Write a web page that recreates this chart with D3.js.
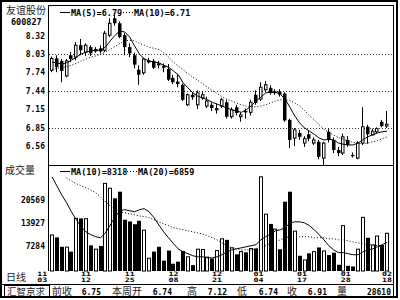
<!DOCTYPE html>
<html>
<head>
<meta charset="utf-8">
<script src="https://cdn.jsdelivr.net/npm/d3@7"></script>
<style>
  body { margin: 0; background: #fff; }
  svg text { font-family: "DejaVu Sans Mono", monospace; font-weight: bold; fill: #000; }
  svg text.cjk { font-family: "Noto Sans CJK SC", sans-serif; font-weight: normal; fill: #222; }
</style>
</head>
<body>
<div id="chart"></div>
<script>
// daily candles
var priceOpen  = [7.77,7.96,7.92,7.68,8.01,7.98,8.17,8.06,8.14,8.08,8.12,8.09,8.33,8.60,8.52,8.33,8.14,8.01,7.78,7.73,
                  7.91,7.92,7.88,7.84,7.79,7.65,7.59,7.54,7.22,7.38,7.22,7.33,7.20,7.22,7.14,7.20,7.26,7.03,7.18,7.03,
                  7.12,7.10,7.38,7.31,7.46,7.49,7.42,7.43,7.40,6.98,6.69,6.77,6.61,6.75,6.61,6.63,6.37,6.79,6.66,6.50,
                  6.45,6.66,6.42,6.37,6.61,6.87,6.74,6.79,6.95,6.88];
var priceHigh  = [7.99,8.01,7.95,7.95,8.06,8.22,8.27,8.20,8.17,8.14,8.17,8.40,8.60,8.66,8.55,8.36,8.20,8.05,7.85,7.97,
                  7.97,7.95,7.92,7.88,7.87,7.70,7.70,7.56,7.40,7.42,7.45,7.43,7.35,7.26,7.24,7.33,7.30,7.18,7.22,7.10,
                  7.16,7.30,7.45,7.58,7.60,7.53,7.47,7.47,7.42,7.00,6.85,6.82,6.72,6.82,6.70,6.66,6.63,6.84,6.70,6.55,
                  6.76,6.72,6.46,6.64,7.18,6.90,6.84,6.86,6.98,7.12];
var priceLow   = [7.74,7.74,7.58,7.66,7.90,7.93,8.01,8.00,8.00,8.05,8.04,8.06,8.30,8.48,8.28,8.01,7.98,7.80,7.54,7.70,
                  7.88,7.79,7.80,7.74,7.60,7.55,7.50,7.28,7.20,7.30,7.15,7.30,7.17,7.12,7.08,7.17,7.00,7.00,7.05,6.95,
                  7.00,7.05,7.22,7.28,7.42,7.38,7.38,7.35,6.95,6.53,6.56,6.66,6.55,6.64,6.58,6.35,6.26,6.62,6.45,6.40,
                  6.42,6.55,6.38,6.35,6.58,6.60,6.74,6.76,6.86,6.85];
var priceClose = [7.96,7.82,7.76,7.92,7.95,8.17,8.09,8.17,8.04,8.10,8.07,8.36,8.52,8.52,8.30,8.14,8.04,7.86,7.70,7.95,
                  7.92,7.81,7.85,7.81,7.62,7.58,7.55,7.30,7.38,7.34,7.41,7.38,7.28,7.17,7.16,7.30,7.03,7.14,7.09,7.06,
                  7.10,7.26,7.25,7.50,7.54,7.41,7.43,7.38,6.97,6.66,6.82,6.71,6.68,6.68,6.66,6.39,6.61,6.66,6.50,6.45,
                  6.71,6.58,6.40,6.61,6.87,6.75,6.80,6.84,6.88,6.91];
var volume     = [10400,9700,7000,6900,5600,15200,15200,15100,7400,6300,7200,25300,23900,21000,22900,14800,14300,13500,14500,11800,
                  3700,5600,7000,3000,5900,2100,2700,5800,4100,1700,6300,6200,4000,3600,5900,9300,9000,6700,4800,5600,
                  5400,6500,6500,27200,16400,13600,12100,6300,20000,22900,11500,4400,3200,5100,5600,6800,5800,4600,5300,1800,
                  13100,1500,1300,6300,15500,9600,7500,10100,7500,10900];

// moving average lines as drawn
var priceMa5  = [7.90,7.89,7.87,7.89,7.93,7.98,8.03,8.06,8.08,8.09,8.09,8.14,8.24,8.33,8.40,8.38,8.30,8.16,8.03,7.95,
                 7.92,7.90,7.89,7.85,7.82,7.76,7.70,7.57,7.49,7.41,7.36,7.33,7.30,7.26,7.23,7.20,7.17,7.14,7.12,7.10,
                 7.14,7.20,7.28,7.34,7.41,7.42,7.42,7.39,7.31,7.18,7.04,6.93,6.85,6.80,6.75,6.69,6.66,6.67,6.66,6.61,
                 6.59,6.58,6.58,6.61,6.66,6.71,6.74,6.77,6.79,6.80];
var priceMa10 = [7.78,7.80,7.81,7.83,7.85,7.88,7.92,7.95,7.98,8.00,8.03,8.06,8.10,8.15,8.20,8.24,8.25,8.24,8.20,8.17,
                 8.14,8.12,8.10,8.05,7.98,7.90,7.84,7.78,7.72,7.66,7.61,7.56,7.50,7.45,7.40,7.35,7.31,7.28,7.25,7.22,
                 7.20,7.19,7.19,7.20,7.22,7.25,7.28,7.30,7.30,7.29,7.25,7.20,7.13,7.05,6.98,6.90,6.83,6.78,6.74,6.70,
                 6.67,6.64,6.62,6.61,6.60,6.61,6.63,6.65,6.68,6.71];
var volMa10 = [27200,24600,22000,19700,17100,14800,12800,11300,10500,9900,9600,11000,13300,15700,17400,17700,17400,17100,17700,18000,
               17100,15400,13300,11300,9600,7900,6400,5500,5000,4400,4100,4100,3800,3800,4100,4700,5500,6100,6400,6700,
               7000,7300,7600,9000,9900,10700,11600,11900,12500,13900,14200,14200,13900,13100,11900,10500,9000,7300,6100,5300,
               5300,5000,4700,4700,5500,6100,6400,7000,7600,8300];
var volMa20 = [null,null,null,26900,26000,25200,24600,24000,23400,22600,21400,20000,18800,17700,17100,16800,16500,16200,15900,15700,
               15400,14800,14200,13600,13100,12500,12200,11900,11600,11300,11000,10700,10200,9600,9000,8100,7300,6700,6400,6100,
               6100,6100,6400,6700,7300,7900,8400,9000,9600,9900,9900,9900,9900,9900,9600,9600,9600,9300,9300,9000,
               9000,8700,8400,8100,7900,7600,7600,7300,7000,7000];

// axis labels
var priceTicks = [8.32, 8.03, 7.74, 7.44, 7.15, 6.85, 6.56];
var priceGrid  = [8.03, 7.44, 6.85];
var volTicks   = [20569, 13927, 7284];
var dateMonth  = ["11","11","11","12","12","01","01","01","02"];
var dateDay    = ["03","12","25","08","21","04","17","28","18"];
var dateIndex  = [-2, 7, 16, 25, 34, 42.5, 51.5, 60.5, 69];

var svg = d3.select("#chart").append("svg")
    .attr("width", 400)
    .attr("height", 300);

svg.append("rect").attr("width", 400).attr("height", 300).attr("fill", "#fff");

// scales
var x = d3.scaleLinear().domain([0, priceClose.length - 1]).range([52, 387.1]);
var y = d3.scaleLinear().domain([6.85, 8.03]).range([128, 54]);
var yv = d3.scaleLinear().domain([0, 30900]).range([271, 164]);

function px(i) { return Math.round(x(i)); }

// frame
svg.append("rect").attr("x", 1).attr("y", 1).attr("width", 396).attr("height", 296)
    .attr("fill", "none").attr("stroke", "#000").attr("stroke-width", 2);
svg.append("line").attr("x1", 48).attr("x2", 393).attr("y1", 5.5).attr("y2", 5.5).attr("stroke", "#000");
svg.append("line").attr("x1", 393.5).attr("x2", 393.5).attr("y1", 5).attr("y2", 297).attr("stroke", "#000");
svg.append("line").attr("x1", 48.5).attr("x2", 48.5).attr("y1", 5).attr("y2", 271).attr("stroke", "#000");
svg.append("line").attr("x1", 48).attr("x2", 393).attr("y1", 165.5).attr("y2", 165.5).attr("stroke", "#000");
svg.append("line").attr("x1", 1).attr("x2", 393).attr("y1", 284.5).attr("y2", 284.5).attr("stroke", "#000");

// dotted grid
svg.selectAll(".grid").data(priceGrid).enter().append("line")
    .attr("class", "grid")
    .attr("x1", 49).attr("x2", 393)
    .attr("y1", function(d) { return Math.round(y(d)) + 0.5; })
    .attr("y2", function(d) { return Math.round(y(d)) + 0.5; })
    .attr("stroke", "#333").attr("stroke-dasharray", "1,2");

// price labels
svg.selectAll(".ptick").data(priceTicks).enter().append("text")
    .attr("class", "ptick")
    .attr("x", 45).attr("y", function(d) { return y(d) + 3; })
    .attr("text-anchor", "end").style("font-size", "8px")
    .text(function(d) { return d.toFixed(2); });

// volume labels
svg.selectAll(".vtick").data(volTicks).enter().append("text")
    .attr("class", "vtick")
    .attr("x", 45).attr("y", function(d) { return yv(d) + 3; })
    .attr("text-anchor", "end").style("font-size", "8px")
    .text(function(d) { return d; });

// candles
var idx = d3.range(priceClose.length);
var up = function(i) { return priceClose[i] >= priceOpen[i]; };

svg.selectAll(".wick").data(idx).enter().append("line")
    .attr("class", "wick")
    .attr("x1", function(i) { return px(i) - 0.5; })
    .attr("x2", function(i) { return px(i) - 0.5; })
    .attr("y1", function(i) { return y(priceHigh[i]); })
    .attr("y2", function(i) { return y(priceLow[i]); })
    .attr("stroke", "#000");

svg.selectAll(".body").data(idx).enter().append("rect")
    .attr("class", "body")
    .attr("x", function(i) { return up(i) ? px(i) - 1.5 : px(i) - 2; })
    .attr("width", function(i) { return up(i) ? 2.5 : 3.5; })
    .attr("y", function(i) { return y(Math.max(priceOpen[i], priceClose[i])); })
    .attr("height", function(i) { return Math.max(1, Math.abs(y(priceOpen[i]) - y(priceClose[i]))); })
    .attr("fill", function(i) { return up(i) ? "#fff" : "#000"; })
    .attr("stroke", function(i) { return up(i) ? "#000" : "none"; });

// volume bars
svg.selectAll(".vbar").data(idx).enter().append("rect")
    .attr("class", "vbar")
    .attr("x", function(i) { return up(i) ? px(i) - 1.5 : px(i) - 2; })
    .attr("width", function(i) { return up(i) ? 3 : 4; })
    .attr("y", function(i) { return yv(volume[i]); })
    .attr("height", function(i) { return yv(0) - yv(volume[i]); })
    .attr("fill", function(i) { return up(i) ? "#fff" : "#000"; })
    .attr("stroke", function(i) { return up(i) ? "#000" : "none"; });

// moving averages
function maLine(scale, values) {
  return d3.line()
    .defined(function(i) { return values[i] != null; })
    .x(function(i) { return x(i); })
    .y(function(i) { return scale(values[i]); })(idx);
}

svg.append("path").attr("d", maLine(y, priceMa5)).attr("fill", "none").attr("stroke", "#000");
svg.append("path").attr("d", maLine(y, priceMa10)).attr("fill", "none").attr("stroke", "#000").attr("stroke-dasharray", "1,2");
svg.append("path").attr("d", maLine(yv, volMa10)).attr("fill", "none").attr("stroke", "#000");
svg.append("path").attr("d", maLine(yv, volMa20)).attr("fill", "none").attr("stroke", "#000").attr("stroke-dasharray", "1,2");

// legends
function legend(ly, items) {
  items.forEach(function(it) {
    svg.append("line").attr("x1", it.x).attr("x2", it.x + 10).attr("y1", ly - 3.5).attr("y2", ly - 3.5)
      .attr("stroke", "#000").attr("stroke-dasharray", it.dash ? "1,2" : null);
    svg.append("text").attr("x", it.x + 11).attr("y", ly).style("font-size", "8.5px").text(it.text);
  });
}
legend(16, [{x: 60, text: "MA(5)=6.79"}, {x: 123, text: "MA(10)=6.71", dash: true}]);
legend(175, [{x: 60, text: "MA(10)=8318"}, {x: 127, text: "MA(20)=6859", dash: true}]);

// left side titles
svg.append("text").attr("class", "cjk").attr("x", 6).attr("y", 14).style("font-size", "10px").text("友谊股份");
svg.append("text").attr("x", 11).attr("y", 25).style("font-size", "8.5px").text("600827");
svg.append("text").attr("class", "cjk").attr("x", 5).attr("y", 174).style("font-size", "10px").text("成交量");
svg.append("text").attr("class", "cjk").attr("x", 6).attr("y", 281).style("font-size", "10px").text("日线");

// date labels
dateIndex.forEach(function(d, k) {
  var cx = x(d);
  svg.append("text").attr("x", cx - 5).attr("y", 275.5).attr("textLength", 10).attr("lengthAdjust", "spacingAndGlyphs")
    .style("font-size", "6px").text(dateMonth[k]);
  svg.append("text").attr("x", cx - 5).attr("y", 281.5).attr("textLength", 10).attr("lengthAdjust", "spacingAndGlyphs")
    .style("font-size", "6px").text(dateDay[k]);
});

// bottom info bar
svg.append("rect").attr("x", 4.5).attr("y", 285.5).attr("width", 45).attr("height", 11)
    .attr("fill", "none").attr("stroke", "#000");
var info = [
  {t: "汇智京求", x: 7, cjk: true}, {t: "前收", x: 52, cjk: true}, {t: "6.75", x: 101},
  {t: "本周开", x: 112, cjk: true}, {t: "6.74", x: 172}, {t: "高", x: 187, cjk: true}, {t: "7.12", x: 227},
  {t: "低", x: 237, cjk: true}, {t: "6.74", x: 278}, {t: "收", x: 287, cjk: true}, {t: "6.91", x: 327},
  {t: "量", x: 337, cjk: true}, {t: "28610", x: 391}
];
info.forEach(function(d) {
  svg.append("text").attr("class", d.cjk ? "cjk" : null)
    .attr("x", d.x).attr("y", 295)
    .attr("text-anchor", d.cjk ? "start" : "end")
    .style("font-size", d.cjk ? (d.t.length > 3 ? "9.5px" : "10px") : "8px")
    .text(d.t);
});
</script>
</body>
</html>
